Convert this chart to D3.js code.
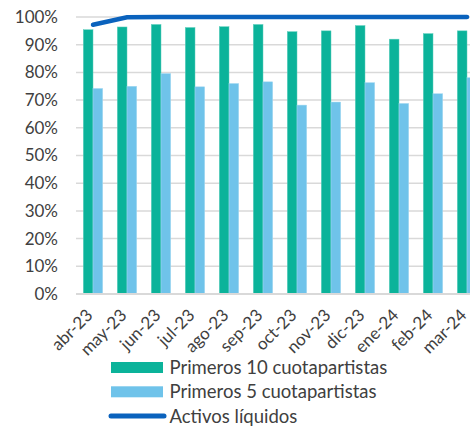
<!DOCTYPE html>
<html>
<head>
<meta charset="utf-8">
<script src="https://cdn.jsdelivr.net/npm/d3@7"></script>
<style>
  body { margin: 0; background: #fff; }
  text { font-family: Lato, "Open Sans", sans-serif; fill: #404040; }
</style>
</head>
<body>
<div id="chart"></div>
<script>
// Chart data
const months = ['abr-23','may-23','jun-23','jul-23','ago-23','sep-23','oct-23','nov-23','dic-23','ene-24','feb-24','mar-24'];
const top10 = [95.4, 96.4, 97.3, 96.2, 96.5, 97.3, 94.7, 95.0, 96.9, 92.0, 94.0, 95.0];
const top5 = [74.2, 75.0, 79.6, 74.8, 76.0, 76.6, 68.2, 69.3, 76.3, 68.8, 72.3, 78.1];
const liquidos = [97.2, 99.9, 100, 100, 100, 100, 100, 100, 100, 100, 100, 100];
const yTicks = [0, 10, 20, 30, 40, 50, 60, 70, 80, 90, 100];

const width = 470;
const height = 428;
const margin = { left: 76, top: 17, bottom: 134 };
const plotRight = 484; // chart is cut on the right in the original

const svg = d3.select('#chart')
    .append('svg')
    .attr('width', width)
    .attr('height', height);

const x = d3.scaleBand()
    .domain(months)
    .range([margin.left, plotRight]);

const y = d3.scaleLinear()
    .domain([0, 100])
    .range([height - margin.bottom, margin.top]);

const barW = 9.7;

// Gridlines
svg.append('g')
    .selectAll('line')
    .data(yTicks)
    .enter()
    .append('line')
    .attr('x1', margin.left)
    .attr('x2', plotRight)
    .attr('y1', d => y(d))
    .attr('y2', d => y(d))
    .attr('stroke', '#d9d9d9')
    .attr('stroke-width', 1.5);

// Y labels
svg.append('g')
    .selectAll('text')
    .data(yTicks)
    .enter()
    .append('text')
    .attr('x', 58)
    .attr('y', d => y(d))
    .attr('dy', '0.35em')
    .attr('text-anchor', 'end')
    .attr('font-size', '17px')
    .text(d => d + '%');

// Bars
const groups = svg.append('g')
    .selectAll('g')
    .data(months)
    .enter()
    .append('g');

groups.append('rect')
    .attr('x', (d, i) => x(d) + x.bandwidth() / 2 - barW)
    .attr('y', (d, i) => y(top10[i]))
    .attr('width', barW)
    .attr('height', (d, i) => y(0) - y(top10[i]))
    .attr('fill', '#0bb39a')
    .attr('stroke', '#5fcfbd')
    .attr('stroke-width', 0.5);

groups.append('rect')
    .attr('x', (d, i) => x(d) + x.bandwidth() / 2)
    .attr('y', (d, i) => y(top5[i]))
    .attr('width', barW)
    .attr('height', (d, i) => y(0) - y(top5[i]))
    .attr('fill', '#6fc3ea')
    .attr('stroke', '#a6daf2')
    .attr('stroke-width', 0.5);

// Baseline
svg.append('line')
    .attr('x1', margin.left)
    .attr('x2', plotRight)
    .attr('y1', y(0))
    .attr('y2', y(0))
    .attr('stroke', '#d9d9d9')
    .attr('stroke-width', 2);

// Line
const line = d3.line()
    .x((d, i) => x(months[i]) + x.bandwidth() / 2)
    .y(d => y(d));

svg.append('path')
    .datum(liquidos)
    .attr('d', line)
    .attr('fill', 'none')
    .attr('stroke', '#0a62bd')
    .attr('stroke-width', 4.5)
    .attr('stroke-linecap', 'round');

// X labels
svg.append('g')
    .selectAll('text')
    .data(months)
    .enter()
    .append('text')
    .attr('text-anchor', 'end')
    .attr('font-size', '17px')
    .attr('transform', d => `translate(${x(d) + x.bandwidth() / 2 - 3.5},${y(0) + 18}) rotate(-45)`)
    .attr('dy', '0.35em')
    .text(d => d);

// Legend
const legend = [
    { name: 'Primeros 10 cuotapartistas', color: '#0bb39a', type: 'rect' },
    { name: 'Primeros 5 cuotapartistas', color: '#6fc3ea', type: 'rect' },
    { name: 'Activos líquidos', color: '#0a62bd', type: 'line' }
];

const lg = svg.append('g')
    .selectAll('g')
    .data(legend)
    .enter()
    .append('g')
    .attr('transform', (d, i) => `translate(111,${367.5 + i * 24.3})`);

lg.filter(d => d.type === 'rect')
    .append('rect')
    .attr('x', 0)
    .attr('y', -5.5)
    .attr('width', 52)
    .attr('height', 11)
    .attr('fill', d => d.color);

lg.filter(d => d.type === 'line')
    .append('line')
    .attr('x1', 0)
    .attr('x2', 53)
    .attr('stroke', d => d.color)
    .attr('stroke-width', 5)
    .attr('stroke-linecap', 'round');

lg.append('text')
    .attr('x', 58.5)
    .attr('dy', '0.35em')
    .attr('font-size', '18.5px')
    .text(d => d.name);
</script>
</body>
</html>
